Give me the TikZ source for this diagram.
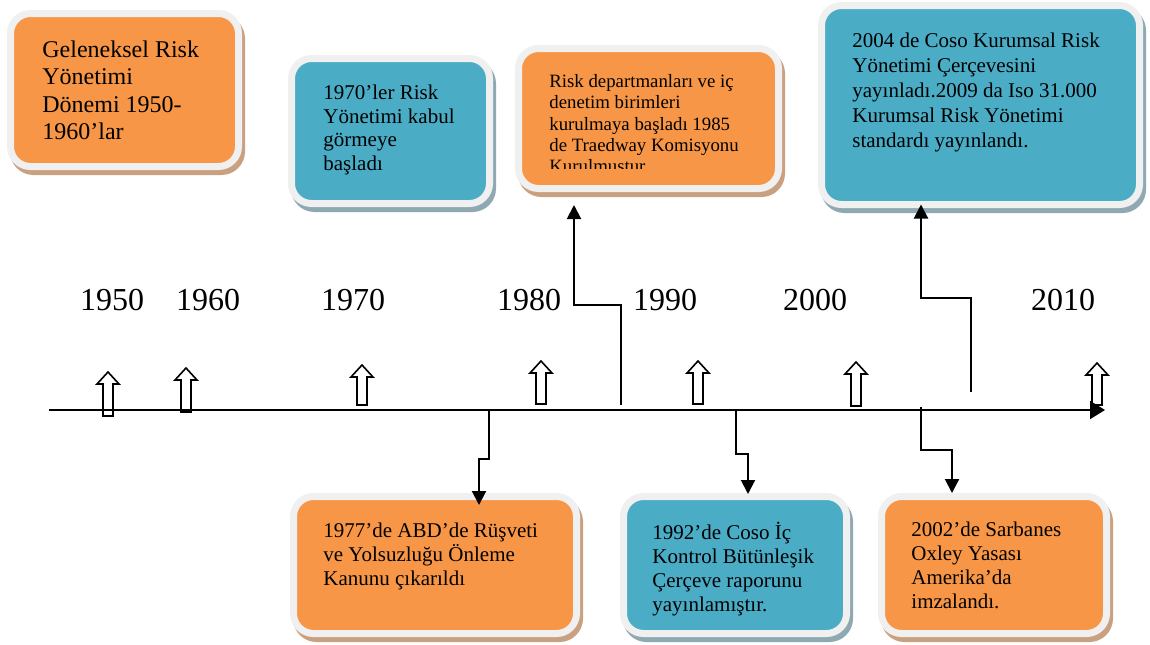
\documentclass[tikz,border=0pt]{standalone}
\usepackage{fontspec}
\setmainfont{Liberation Serif}
\usetikzlibrary{arrows.meta,positioning,calc}

\definecolor{boxorange}{HTML}{F79646}
\definecolor{boxblue}{HTML}{4BACC6}
\definecolor{boxrim}{HTML}{F0F0F0}
\definecolor{oshadow}{HTML}{C9A180}
\definecolor{bshadow}{HTML}{8FA9B3}

\begin{document}
\begin{tikzpicture}[x=0.5pt,y=-0.5pt,
  box/.style={rounded corners=10pt, line width=3.5pt, draw=boxrim,
              outer sep=0pt, inner sep=0pt},
  obox/.style={box, fill=boxorange,
               preaction={fill=oshadow, draw=oshadow, line width=3.5pt,
                          transform canvas={shift={(1.5pt,-2.5pt)}}}},
  bbox/.style={box, fill=boxblue,
               preaction={fill=bshadow, draw=bshadow, line width=3.5pt,
                          transform canvas={shift={(1.5pt,-2.5pt)}}}},
  txt/.style={anchor=north west, inner sep=0pt, align=left},
  year/.style={font=\fontsize{16}{19}\selectfont, inner sep=0pt},
  hollow/.style={draw, fill=white, line width=0.8pt, line join=miter},
  conn/.style={line width=1pt, -{Triangle[length=7pt,width=7pt]}}]
\useasboundingbox (0,0) rectangle (1150,644);

% years
\foreach \yr/\px in {1950/112,1960/208,1970/353,1980/529,1990/665,2000/815,2010/1063}
  \node[year] (y\yr) at (\px,300) {\yr};

% hollow year markers
\foreach \px/\tip/\bot in {108/372/416,186/368/412,362/365/405,541/361/404,
                           698/361/404,856/362/406,1097/363/405}
  \draw[hollow] (\px,\tip) -- (\px+11,\tip+12) -- (\px+5,\tip+12) -- (\px+5,\bot)
    -- (\px-5,\bot) -- (\px-5,\tip+12) -- (\px-11,\tip+12) -- cycle;

% timeline
\coordinate (tl0) at (49,410);
\coordinate (tl1) at (1105,410);
\draw[line width=1pt, -{Triangle[length=7.5pt,width=9pt]}] (tl0) -- (tl1);

% boxes
\node[obox, minimum width=114pt, minimum height=76.5pt] (b1) at (124.5,90) {};
\node[bbox, minimum width=99pt, minimum height=72.5pt] (b2) at (390.5,131) {};
\node[obox, minimum width=130pt, minimum height=70pt] (b3) at (648.5,118.5) {};
\node[bbox, minimum width=159pt, minimum height=99.5pt] (b6) at (980.5,105) {};
\node[obox, minimum width=141.5pt, minimum height=68.5pt] (b7) at (435,565) {};
\node[bbox, minimum width=111.5pt, minimum height=68.5pt] (b8) at (735,565) {};
\node[obox, minimum width=112.5pt, minimum height=68.5pt] (b9) at (994,565) {};

% texts
\node[txt, font=\fontsize{12}{13.75}\selectfont] (t1) at (42,40)
  {Geleneksel Risk\\Yönetimi\\Dönemi 1950-\\1960’lar};
\node[txt, font=\fontsize{10.5}{11.75}\selectfont] (t2) at (323,85)
  {1970’ler Risk\\Yönetimi kabul\\görmeye\\başladı};
\begin{scope}
  \clip (b3.north west) rectangle ([yshift=10.25pt]b3.south east);
  \node[txt, font=\fontsize{9.4}{10.65}\selectfont] (t3) at (549,74)
    {Risk departmanları ve iç\\denetim birimleri\\kurulmaya başladı 1985\\de Traedway Komisyonu\\Kurulmuştur};
\end{scope}
\node[txt, font=\fontsize{10.5}{12.4}\selectfont] (t6) at (852,33)
  {2004 de Coso Kurumsal Risk\\Yönetimi Çerçevesini\\yayınladı.2009 da Iso 31.000\\Kurumsal Risk Yönetimi\\standardı yayınlandı.};
\node[txt, font=\fontsize{10.5}{12}\selectfont] (t7) at (323,523)
  {1977’de ABD’de Rüşveti\\ve Yolsuzluğu Önleme\\Kanunu çıkarıldı};
\node[txt, font=\fontsize{10.5}{12}\selectfont] (t8) at (652,522)
  {1992’de Coso İç\\Kontrol Bütünleşik\\Çerçeve raporunu\\yayınlamıştır.};
\node[txt, font=\fontsize{10.5}{12}\selectfont] (t9) at (911,522)
  {2002’de Sarbanes\\Oxley Yasası\\Amerika’da\\imzalandı.};

% connectors
\coordinate (c3) at (621,405);
\coordinate (c6) at (971,392);
\coordinate (c7) at (489,410);
\coordinate (c8) at (736,410);
\coordinate (c9) at (921,407);
\draw[conn] (c3) -- ++(0,-100) -| ([xshift=-37.25pt,yshift=-8.25pt]b3.south);
\draw[conn] (c6) -- ++(0,-94) -| ([xshift=-29.75pt]b6.south);
\draw[conn] (c7) -- ++(0,49) -| ([xshift=22pt,yshift=-4.25pt]b7.north);
\draw[conn] (c8) -- ++(0,44) -| ([xshift=6.5pt,yshift=1.25pt]b8.north);
\draw[conn] (c9) -- ++(0,43) -| ([xshift=-21pt,yshift=1.75pt]b9.north);
\end{tikzpicture}
\end{document}
